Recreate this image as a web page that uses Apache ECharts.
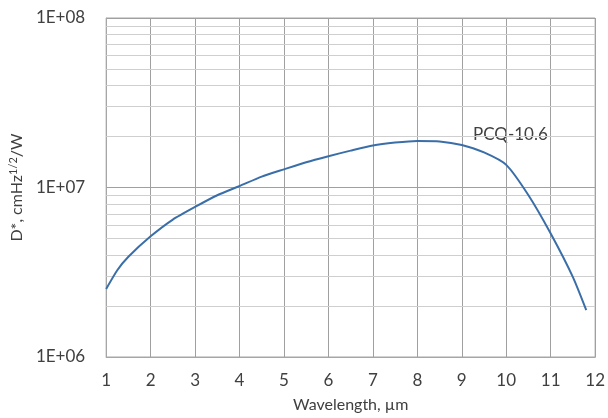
<!DOCTYPE html>
<html>
<head>
<meta charset="utf-8">
<script src="https://cdn.jsdelivr.net/npm/echarts@6/dist/echarts.min.js"></script>
<style>
  html, body { margin: 0; padding: 0; background: #fff; }
  #chart { width: 608px; height: 418px; }
</style>
</head>
<body>
<div id="chart"></div>
<script>
// wavelength, um
var wavelength = [1, 1.25, 1.5, 2, 2.5, 3, 3.5, 4, 4.5, 5, 5.5, 6, 6.5, 7, 7.5, 8, 8.5, 9, 9.5, 10, 10.5, 11, 11.5, 11.8];
// D*, cmHz^1/2/W
var detectivity = [2.52e6, 3.25e6, 3.9e6, 5.15e6, 6.47e6, 7.68e6, 9.0e6, 1.02e7, 1.16e7, 1.28e7, 1.41e7, 1.53e7, 1.65e7,
  1.77e7, 1.84e7, 1.88e7, 1.87e7, 1.78e7, 1.61e7, 1.36e7, 9.0e6, 5.35e6, 2.96e6, 1.89e6];
var xTicks = [1, 2, 3, 4, 5, 6, 7, 8, 9, 10, 11, 12];
var yMinorLines = [2e6, 3e6, 4e6, 5e6, 6e6, 7e6, 8e6, 9e6, 2e7, 3e7, 4e7, 5e7, 6e7, 7e7, 8e7, 9e7];
var seriesName = 'PCQ-10.6';

var chart = echarts.init(document.getElementById('chart'));
var font = 'Lato, "Open Sans", sans-serif';

chart.setOption({
  animation: false,
  grid: {
    left: 105, right: 11, top: 18, bottom: 61,
    show: true, borderColor: '#a6a6a6', borderWidth: 1
  },
  xAxis: {
    type: 'value',
    min: xTicks[0], max: xTicks[xTicks.length - 1], interval: 1,
    name: 'Wavelength, \u00b5m',
    nameLocation: 'middle',
    nameGap: 40,
    nameTextStyle: { fontFamily: font, fontSize: 16, color: '#404040' },
    axisLine: { lineStyle: { color: '#a6a6a6' } },
    axisTick: { show: false },
    axisLabel: { fontFamily: font, fontSize: 17, color: '#404040', margin: 15 },
    splitLine: { show: true, lineStyle: { color: '#a0a0a0', width: 1 } }
  },
  yAxis: {
    type: 'log',
    logBase: 10,
    min: 1e6, max: 1e8,
    name: '{a|D*, cmHz}{s|1/2}{a|/W}',
    nameLocation: 'middle',
    nameRotate: 90,
    nameGap: 79,
    nameTextStyle: {
      rich: {
        a: { fontFamily: font, fontSize: 16, color: '#404040' },
        s: { fontFamily: font, fontSize: 11, color: '#404040', verticalAlign: 'top', padding: [0, 0, 7, 0] }
      }
    },
    axisLine: { show: true, lineStyle: { color: '#a6a6a6' } },
    axisTick: { show: false },
    axisLabel: {
      fontFamily: font, fontSize: 17, color: '#404040', margin: 21,
      formatter: function (v) { return '1E+0' + Math.round(Math.log10(v)); }
    },
    splitLine: { show: true, lineStyle: { color: '#a0a0a0', width: 1 } }
  },
  graphic: [{
    type: 'text',
    left: 473, top: 126,
    style: { text: seriesName, fontFamily: font, fontSize: 17, fill: '#404040' }
  }],
  series: [{
    name: seriesName,
    type: 'line',
    smooth: 0.2,
    symbol: 'none',
    data: wavelength.map(function (x, i) { return [x, detectivity[i]]; }),
    lineStyle: { color: '#3a6ea8', width: 2, join: 'round' },
    z: 5,
    markLine: {
      silent: true,
      symbol: 'none',
      label: { show: false },
      lineStyle: { color: '#cfcfcf', type: 'solid', width: 1 },
      data: yMinorLines.map(function (v) { return { yAxis: v }; }),
      z: 1
    }
  }]
});
</script>
</body>
</html>
